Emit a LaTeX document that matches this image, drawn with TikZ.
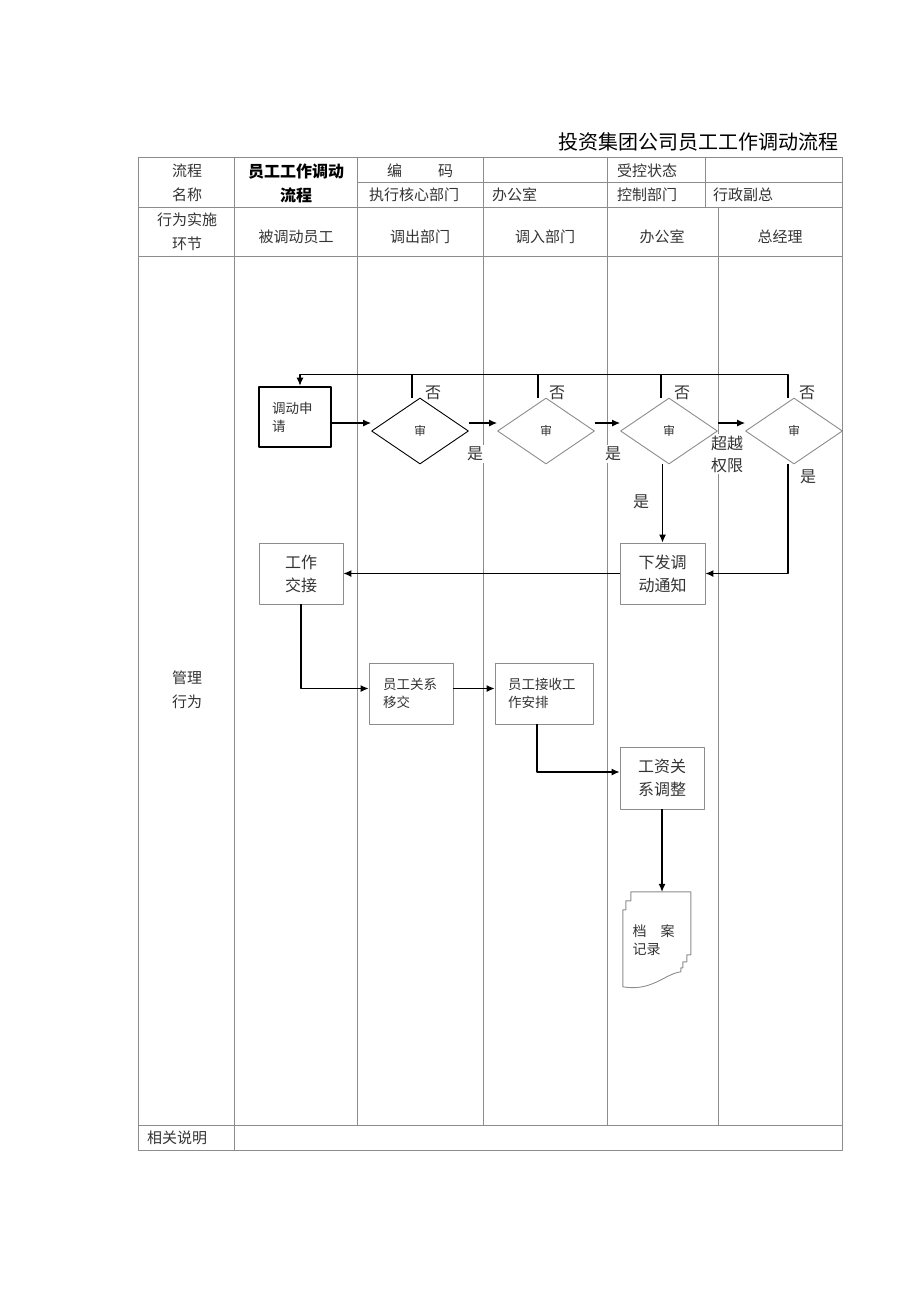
\documentclass[tikz,border=0pt]{standalone}
\usepackage{fontspec}
\setmainfont{Noto Sans CJK SC}
\usepackage{tikz}
\usetikzlibrary{shapes,arrows,arrows.meta,calc}
\definecolor{linecol}{rgb}{0.55,0.55,0.55}
\definecolor{textcol}{rgb}{0.2,0.2,0.2}

\begin{document}
\begin{tikzpicture}[x=1pt,y=-1pt,>={Latex[length=8pt,width=7pt]},line join=bevel,
  grid/.style={draw=linecol,line width=0.9pt},
  cell/.style={text=textcol,font=\fontsize{15}{24}\selectfont,align=center,inner sep=0pt},
  box/.style={draw=linecol,line width=0.9pt,rectangle,inner sep=0pt,text=textcol,
    font=\fontsize{16}{23}\selectfont,align=center},
  smallbox/.style={box,font=\fontsize{13.5}{18}\selectfont,align=left},
  dia/.style={draw=linecol,line width=0.9pt,diamond,inner sep=0pt,text=textcol,
    minimum width=97,minimum height=66,font=\fontsize{12}{14}\selectfont},
  lbl/.style={fill=white,text=textcol,font=\fontsize{16}{22}\selectfont,inner sep=2pt,align=center},
  arr/.style={->,line width=1.1pt,black},
]
%%
\useasboundingbox (0,0) rectangle (920,1301);
\node (title) at (842,142) [anchor=east,font=\fontsize{20}{24}\selectfont] {投资集团公司员工工作调动流程};
%
\draw[grid] (138,157) rectangle (842,1150);
\draw[grid] (357,182) -- (842,182);
\draw[grid] (138,207) -- (842,207);
\draw[grid] (138,256) -- (842,256);
\draw[grid] (138,1125) -- (842,1125);
\draw[grid] (234,157) -- (234,1150);
\foreach \x in {357,483,607} \draw[grid] (\x,157) -- (\x,1125);
\draw[grid] (705,157) -- (705,207);
\draw[grid] (718,207) -- (718,1125);
%
\node (hdname) at (187,183) [cell] {流程\\名称};
\node (hdflow) at (296,183) [cell,font=\fontsize{16}{24}\selectfont\bfseries,text=black] {员工工作调动\\流程};
\node (hdcode) at (420,171) [cell] {编\hspace{36pt}码};
\node (hdexec) at (414,195) [cell] {执行核心部门};
\node (hdexecv) at (492,195) [cell,anchor=west] {办公室};
\node (hdstate) at (617,171) [cell,anchor=west] {受控状态};
\node (hdctrl) at (617,195) [cell,anchor=west] {控制部门};
\node (hdctrlv) at (713,195) [cell,anchor=west] {行政副总};
\node (hdstep) at (187,232) [cell] {行为实施\\环节};
\node (lane1) at (296,237) [cell] {被调动员工};
\node (lane2) at (420,237) [cell] {调出部门};
\node (lane3) at (545,237) [cell] {调入部门};
\node (lane4) at (662,237) [cell] {办公室};
\node (lane5) at (780,237) [cell] {总经理};
\node (hdmgmt) at (187,690) [cell] {管理\\行为};
\node (hdnote) at (177,1138) [cell] {相关说明};
%
\node (no1) at (433,393) [lbl] {否};
\node (no2) at (557,393) [lbl] {否};
\node (no3) at (682,393) [lbl] {否};
\node (no4) at (807,393) [lbl] {否};
\node (yes1) at (475,454) [lbl] {是};
\node (yes2) at (613,454) [lbl] {是};
\node (over) at (727,454) [lbl] {超越\\权限};
\node (yes3) at (641,502) [lbl] {是};
\node (yes4) at (808,477) [lbl] {是};
%
\node (apply) at (295,417) [smallbox,draw=black,line width=2.6pt,minimum width=72,minimum height=60,text width=46] {调动申\\请};
\node (chk1) at (420,431) [dia,draw=black] {审};
\node (chk2) at (546,431) [dia] {审};
\node (chk3) at (669,431) [dia] {审};
\node (chk4) at (794,431) [dia] {审};
\node (handover) at (301,573.5) [box,minimum width=84,minimum height=61] {工作\\交接};
\node (notice) at (662.5,573.5) [box,minimum width=85,minimum height=61] {下发调\\动通知};
\node (transfer) at (411,693.5) [smallbox,minimum width=84,minimum height=61,text width=56] {员工关系\\移交};
\node (receive) at (544,693.5) [smallbox,minimum width=98,minimum height=61,text width=72] {员工接收工\\作安排};
\node (wage) at (662,778) [box,minimum width=84,minimum height=62] {工资关\\系调整};
\node (archive) at (655.5,940) [text=textcol,font=\fontsize{14}{18}\selectfont,align=left,text width=46,
  minimum width=71,minimum height=96,inner sep=0pt] {档\hspace{14pt}案\\记录};
\draw[draw=linecol,line width=0.9pt,shift={(archive.north west)}] (11,0) -- (71,0) -- (71,63) -- (67,63)
  -- (67,70) -- (63,70) -- (63,76) -- (61,76) -- (61,80) .. controls (45,82) and (32,100) .. (3,95)
  -- (3,18) -- (6,18) -- (6,9) -- (11,9) -- cycle;
%
\draw[arr] ([yshift=-6]apply.east) -- ([yshift=8]chk1.west);
\draw[arr] ([yshift=8]chk1.east) -- ([yshift=8]chk2.west);
\draw[arr] ([yshift=8]chk2.east) -- ([yshift=8]chk3.west);
\draw[arr] ([yshift=8]chk3.east) -- ([yshift=8]chk4.west);
\draw[arr] ([xshift=-6]chk4.north) -- ++(0,-23) -| ([xshift=5]apply.north);
\foreach \k in {chk1,chk2,chk3} \draw[line width=1.1pt] ([xshift=-8]\k.north) -- ++(0,-23);
\draw[arr] (notice.north |- chk3.south) -- (notice.north);
\draw[arr] ([xshift=-6]chk4.south) |- (notice.east);
\draw[arr] (notice.west) -- (handover.east);
\draw[arr] (handover.south) |- ([yshift=5]transfer.west);
\draw[arr] ([yshift=5]transfer.east) -- ([yshift=5]receive.west);
\draw[arr] ([xshift=-7]receive.south) |- ([yshift=6]wage.west);
\draw[arr] (wage.south) -- (wage.south |- archive.north);
%
\end{tikzpicture}
\end{document}
